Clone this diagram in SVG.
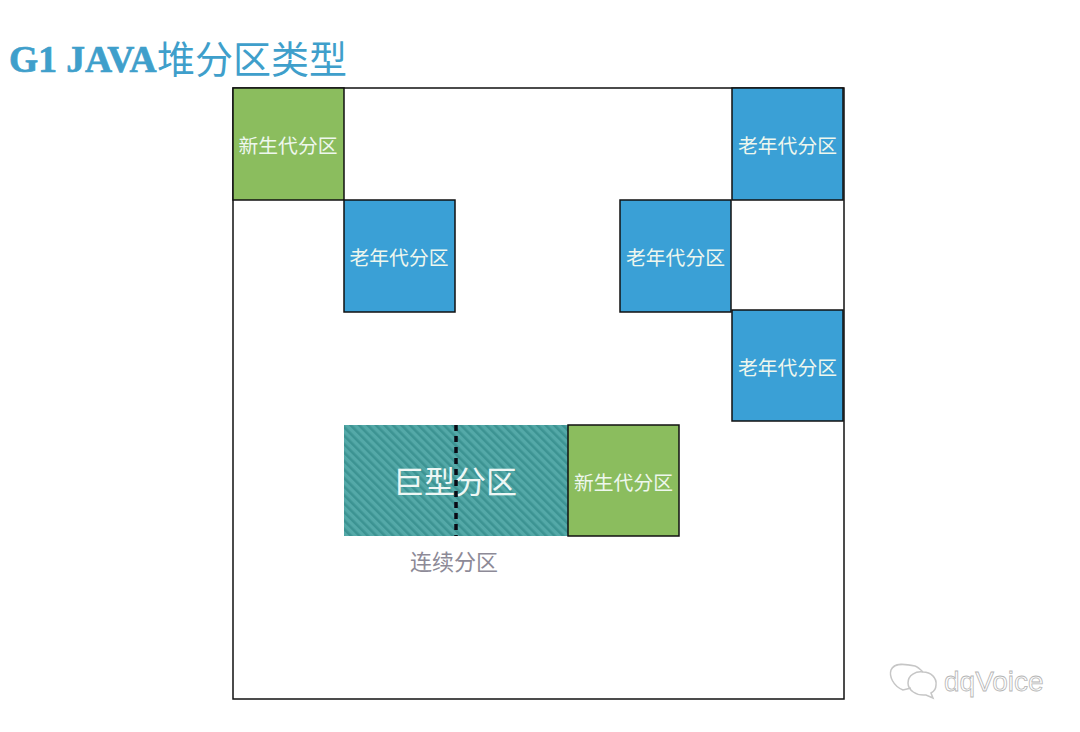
<svg xmlns="http://www.w3.org/2000/svg" width="1080" height="732" viewBox="0 0 1080 732">
<style>
.cn{font-family:"Liberation Serif","Noto Sans CJK SC",serif}
.box{stroke:#111;stroke-width:1.5}
.old{fill:#3aa0d6}
.young{fill:#8bbd5e}
.lbl{font-size:19.800px;fill:#eef7ee;text-anchor:middle}
</style>
<defs>
<pattern id="hatch" width="6" height="6" patternUnits="userSpaceOnUse" patternTransform="rotate(-45)">
<rect width="6" height="6" fill="#54a9a8"/>
<rect width="2.600" height="6" fill="#3c9392"/>
</pattern>
</defs>
<rect width="1080" height="732" fill="#fff"/>
<text id="title" class="cn" x="9" y="72" font-size="37.500" font-weight="bold" fill="#3f9fcb" stroke="#3f9fcb" stroke-width="0.700">G1 JAVA<tspan font-weight="normal" font-size="38" stroke="none" x="157" y="73">堆分区类型</tspan></text>
<rect id="heap" x="233" y="88" width="611" height="611" fill="#fff" stroke="#111" stroke-width="1.500"/>
<g id="young1"><rect class="box young" x="233" y="88" width="111" height="112"/><text class="cn lbl" x="288" y="153">新生代分区</text></g>
<g id="old1"><rect class="box old" x="344" y="200" width="111" height="112"/><text class="cn lbl" x="399" y="265">老年代分区</text></g>
<g id="old2"><rect class="box old" x="732" y="88" width="111" height="112"/><text class="cn lbl" x="787.500" y="153">老年代分区</text></g>
<g id="old3"><rect class="box old" x="620" y="200" width="111" height="112"/><text class="cn lbl" x="675.500" y="265">老年代分区</text></g>
<g id="old4"><rect class="box old" x="732" y="310" width="111" height="111"/><text class="cn lbl" x="787.500" y="375">老年代分区</text></g>
<g id="humongous"><rect x="344" y="425" width="224" height="111" fill="url(#hatch)"/><text class="cn" x="455" y="493" font-size="31" fill="#eef7f5" text-anchor="middle">巨型分区</text></g>
<g id="young2"><rect class="box young" x="568" y="425" width="111" height="111"/><text class="cn lbl" x="623.500" y="490">新生代分区</text></g>
<g id="connectors"><line x1="456" y1="425" x2="456" y2="536" stroke="#0a0a14" stroke-width="3.500" stroke-dasharray="6 5"/></g>
<text id="caption" x="454" y="570" font-family="'Noto Sans CJK SC',sans-serif" font-size="22" fill="#8d8a97" text-anchor="middle">连续分区</text>
<g id="watermark" fill="none" stroke="#c6c6c6" stroke-width="1.500">
<path d="M911 688 L903 690 C893 686 889 676 891 670 C894 662 906 664 915 666 C918 667 921 670 923 672"/>
<path d="M933 698 L926 695 C916 696 908 690 908 683 C908 675 916 671 923 672 C931 672 937 678 936 685 C936 689 933 692 931 693Z"/>
<text x="944" y="691" font-family="'Liberation Sans',sans-serif" font-size="28" fill="#fff" stroke="#b5b5b5" stroke-width="0.800">dqVoice</text>
</g>
</svg>
